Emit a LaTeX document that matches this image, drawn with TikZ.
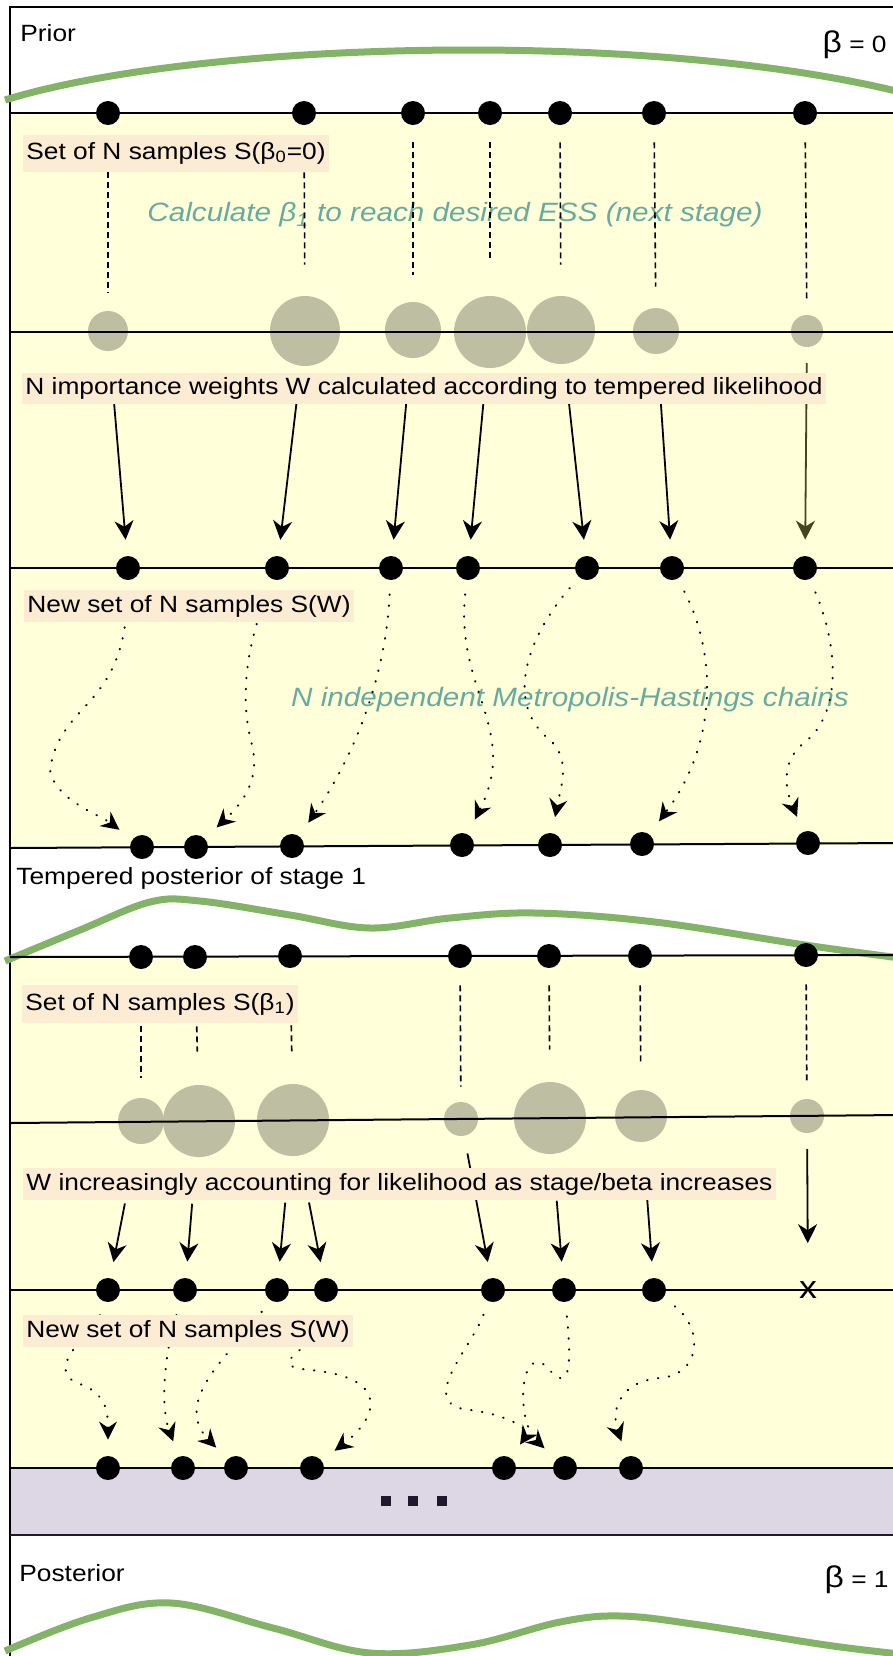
\documentclass[tikz,border=0pt]{standalone}
\usepackage{fontspec}
\setmainfont{Liberation Sans}[FakeStretch=1.12]
\usepackage{tikz}
\usetikzlibrary{arrows.meta}
\definecolor{smcyellow}{RGB}{255,255,218}
\definecolor{smclabel}{RGB}{253,236,212}
\definecolor{smcgray}{RGB}{190,190,162}
\definecolor{smcteal}{RGB}{103,171,159}
\definecolor{smcgreen}{RGB}{130,179,102}
\definecolor{smclav}{RGB}{221,214,228}
\definecolor{smcolive}{RGB}{70,70,30}
\definecolor{smcdark}{RGB}{30,25,45}

\begin{document}
\begin{tikzpicture}[
    x=0.5pt, y=-0.5pt,
    smp/.style={circle, fill=black, inner sep=0pt, minimum size=12pt},
    wgt/.style={circle, fill=smcgray, inner sep=0pt},
    lbl/.style={anchor=west, fill=smclabel, inner xsep=1.5pt, inner ysep=0pt, minimum height=16pt, font=\fontsize{11.75}{14}\selectfont},
    txt/.style={anchor=west, inner sep=0pt, font=\fontsize{11.75}{14}\selectfont},
    note/.style={inner sep=0pt, text=smcteal, font=\fontsize{13.25}{16}\selectfont\itshape},
    sq/.style={rectangle, fill=smcdark, inner sep=0pt, minimum size=5pt},
    sep/.style={line width=1pt},
    curve/.style={smcgreen, line width=3.5pt},
    link/.style={dash pattern=on 3pt off 2pt, line width=0.8pt, shorten <=8.5pt},
    wmap/.style={line width=0.9pt, -{Stealth[length=9.5pt, width=9.5pt, inset=3pt]}, shorten >=8pt},
    chain/.style={line width=1pt, dash pattern=on 0.3pt off 5.2pt, line cap=round, -{Stealth[length=9pt, width=9pt, inset=3pt]}, shorten <=7pt, shorten >=8pt}
  ]
  \useasboundingbox (0,0) rectangle (893,1656);
  \clip (0,0) rectangle (893,1656);

  % bands
  \fill[smcyellow] (10,113) rectangle (900,846);
  \fill[smcyellow] (10,956) rectangle (900,1468);
  \fill[smclav] (10,1468) rectangle (900,1535);
  \draw[line width=1pt] (10,1700) -- (10,7) -- (900,7);

  % densities
  \draw[curve] (5,100) .. controls (200,40) and (650,30) .. (900,92);
  \draw[curve] plot[smooth, tension=0.6] coordinates {(5,961) (80,930) (150,902) (200,901) (290,915) (370,928) (450,918) (535,913) (655,922) (805,945) (900,958)};
  \draw[curve] plot[smooth, tension=0.6] coordinates {(5,1651) (90,1618) (171,1603) (273,1628) (370,1653) (470,1645) (560,1622) (621,1616) (700,1625) (826,1645) (900,1654)};

  % weights
  \node[wgt, minimum size=20pt] (w0-1) at (108,331) {};
  \node[wgt, minimum size=35pt] (w0-2) at (305,331) {};
  \node[wgt, minimum size=28pt] (w0-3) at (413,330) {};
  \node[wgt, minimum size=36pt] (w0-4) at (490,332) {};
  \node[wgt, minimum size=34pt] (w0-5) at (561,330) {};
  \node[wgt, minimum size=23pt] (w0-6) at (656,331) {};
  \node[wgt, minimum size=16pt] (w0-7) at (807,331) {};
  \node[wgt, minimum size=23pt] (w1-1) at (141,1121) {};
  \node[wgt, minimum size=36pt] (w1-2) at (199,1121) {};
  \node[wgt, minimum size=36pt] (w1-3) at (293,1120) {};
  \node[wgt, minimum size=17pt] (w1-4) at (461,1119) {};
  \node[wgt, minimum size=36pt] (w1-5) at (550,1118) {};
  \node[wgt, minimum size=26pt] (w1-6) at (641,1116) {};
  \node[wgt, minimum size=17pt] (w1-7) at (807,1116) {};

  % stage lines
  \draw[sep] (10,113) -- (900,113);
  \draw[sep] (10,332) -- (900,332);
  \draw[sep] (10,568) -- (900,568);
  \draw[sep] (10,848) -- (900,843);
  \draw[sep] (10,957) -- (900,955);
  \draw[sep] (10,1123) -- (900,1115);
  \draw[sep] (10,1290) -- (900,1290);
  \draw[sep] (10,1468) -- (900,1468);
  \draw[sep, smcdark] (10,1535) -- (900,1535);

  % samples
  \node[smp] (s0-1) at (108,113) {}; \node[smp] (s0-2) at (304,113) {};
  \node[smp] (s0-3) at (413,113) {}; \node[smp] (s0-4) at (490,113) {};
  \node[smp] (s0-5) at (560,113) {}; \node[smp] (s0-6) at (654,113) {};
  \node[smp] (s0-7) at (805,113) {};
  \node[smp] (r0-1) at (128,568) {}; \node[smp] (r0-2) at (277,568) {};
  \node[smp] (r0-3) at (391,568) {}; \node[smp] (r0-4) at (468,568) {};
  \node[smp] (r0-5) at (587,568) {}; \node[smp] (r0-6) at (672,568) {};
  \node[smp] (r0-7) at (805,568) {};
  \node[smp] (m0-1) at (142,847) {}; \node[smp] (m0-2) at (196,847) {};
  \node[smp] (m0-3) at (292,846) {}; \node[smp] (m0-4) at (462,845) {};
  \node[smp] (m0-5) at (550,845) {}; \node[smp] (m0-6) at (642,844) {};
  \node[smp] (m0-7) at (808,843) {};
  \node[smp] (s1-1) at (141,957) {}; \node[smp] (s1-2) at (195,957) {};
  \node[smp] (s1-3) at (290,956) {}; \node[smp] (s1-4) at (460,956) {};
  \node[smp] (s1-5) at (549,956) {}; \node[smp] (s1-6) at (640,956) {};
  \node[smp] (s1-7) at (806,955) {};
  \node[smp] (r1-1) at (108,1290) {}; \node[smp] (r1-2) at (185,1290) {};
  \node[smp] (r1-3) at (277,1290) {}; \node[smp] (r1-4) at (326,1290) {};
  \node[smp] (r1-5) at (493,1290) {}; \node[smp] (r1-6) at (564,1290) {};
  \node[smp] (r1-7) at (654,1290) {};
  \node[inner sep=0pt, font=\fontsize{16}{16}\selectfont] (r1-x) at (808,1290) {x};
  \node[smp] (m1-1) at (108,1468) {}; \node[smp] (m1-2) at (183,1468) {};
  \node[smp] (m1-3) at (236,1468) {}; \node[smp] (m1-4) at (312,1468) {};
  \node[smp] (m1-5) at (504,1468) {}; \node[smp] (m1-6) at (565,1468) {};
  \node[smp] (m1-7) at (631,1468) {};

  \node[sq] (more-1) at (386,1501) {};
  \node[sq] (more-2) at (413,1501) {};
  \node[sq] (more-3) at (442,1501) {};

  % notes
  \node[note] (ess) at (455,215) {Calculate β\textsubscript{1} to reach desired ESS (next stage)};
  \node[note] (mh) at (570,700) {N independent Metropolis-Hastings chains};

  % weighting
  \draw[link, shorten >=9pt] (s0-1) -- (w0-1);
  \draw[link, shorten >=15.5pt] (s0-2) -- (w0-2);
  \draw[link, shorten >=13.5pt] (s0-3) -- (w0-3);
  \draw[link, shorten >=17pt] (s0-4) -- (w0-4);
  \draw[link, shorten >=15.5pt] (s0-5) -- (w0-5);
  \draw[link, shorten >=10.5pt] (s0-6) -- (w0-6);
  \draw[link, shorten >=6.5pt] (s0-7) -- (w0-7);
  \draw[link, shorten >=10pt] (s1-1) -- (w1-1);
  \draw[link, shorten >=16.5pt] (s1-2) -- (w1-2);
  \draw[link, shorten >=15.5pt] (s1-3) -- (w1-3);
  \draw[link, shorten >=7.5pt] (s1-4) -- (w1-4);
  \draw[link, shorten >=16pt] (s1-5) -- (w1-5);
  \draw[link, shorten >=13pt] (s1-6) -- (w1-6);
  \draw[link, shorten >=8.5pt] (s1-7) -- (w1-7);

  % resampling
  \draw[wmap, shorten <=36pt] (w0-1.center) -- (r0-1);
  \draw[wmap, shorten <=36pt] (w0-2.center) -- (r0-2);
  \draw[wmap, shorten <=36pt] (w0-3.center) -- (r0-3);
  \draw[wmap, shorten <=36pt] (w0-4.center) -- (r0-4);
  \draw[wmap, shorten <=36pt] (w0-5.center) -- (r0-5);
  \draw[wmap, shorten <=36pt] (w0-6.center) -- (r0-6);
  \draw[wmap, smcolive, shorten <=16pt] (w0-7.center) -- (r0-7);
  \draw[wmap, shorten <=42pt] (w1-1.center) -- (r1-1);
  \draw[wmap, shorten <=41.5pt] (w1-2.center) -- (r1-2);
  \draw[wmap, shorten <=41.5pt] (w1-3.center) -- (r1-3);
  \draw[wmap, shorten <=42pt] (w1-3.center) -- (r1-4);
  \draw[wmap, shorten <=17.5pt] (w1-4.center) -- (r1-5);
  \draw[wmap, shorten <=41.5pt] (w1-5.center) -- (r1-6);
  \draw[wmap, shorten <=41.5pt] (w1-6.center) -- (r1-7);
  \draw[wmap, shorten <=16.5pt, shorten >=19pt] (w1-7.center) -- (r1-x);

  % mcmc moves
  \draw[chain] (r0-1) .. controls (125,710) and (60,700) .. (50,770) .. controls (55,800) and (100,815) .. (m0-1);
  \draw[chain] (r0-2) .. controls (245,650) and (240,700) .. (252,745) .. controls (262,785) and (235,810) .. (m0-2);
  \draw[chain] (r0-3) .. controls (385,690) and (345,770) .. (m0-3);
  \draw[chain] (r0-4) .. controls (455,690) and (520,730) .. (m0-4);
  \draw[chain] (r0-5) .. controls (525,640) and (505,705) .. (550,740) .. controls (572,760) and (560,790) .. (m0-5);
  \draw[chain] (r0-6) .. controls (715,650) and (720,740) .. (m0-6);
  \draw[chain] (r0-7) .. controls (840,650) and (840,715) .. (805,742) .. controls (775,765) and (790,800) .. (m0-7);
  \draw[chain] (r1-1) .. controls (95,1330) and (40,1370) .. (80,1384) .. controls (105,1393) and (108,1410) .. (m1-1);
  \draw[chain] (r1-2) .. controls (168,1340) and (158,1400) .. (m1-2);
  \draw[chain] (r1-3) .. controls (235,1350) and (170,1400) .. (m1-3);
  \draw[chain] (r1-4) .. controls (326,1345) and (255,1365) .. (310,1370) .. controls (395,1378) and (375,1420) .. (m1-4);
  \draw[chain] (r1-5) .. controls (470,1350) and (415,1405) .. (470,1410) .. controls (510,1415) and (530,1430) .. (m1-5);
  \draw[chain] (r1-6) .. controls (572,1365) and (570,1395) .. (548,1368) .. controls (520,1340) and (515,1420) .. (m1-6);
  \draw[chain] (r1-7) .. controls (705,1330) and (700,1375) .. (660,1378) .. controls (615,1382) and (612,1415) .. (m1-7);

  % labels
  \node[txt] (prior) at (20,33) {Prior};
  \node[txt, anchor=east] (beta0) at (887,45) {{\fontsize{15}{15}\selectfont β} = 0};
  \node[lbl, minimum height=18.5pt] (ls0) at (23,153) {Set of N samples S(β\textsubscript{0}=0)};
  \node[lbl, minimum height=15.5pt] (lw0) at (22,388) {N importance weights W calculated according to tempered likelihood};
  \node[lbl] (lr0) at (24,606) {New set of N samples S(W)};
  \node[txt] (tp1) at (16,878) {Tempered posterior of stage 1};
  \node[lbl, minimum height=19pt] (ls1) at (22,1004) {Set of N samples S(β\textsubscript{1})};
  \node[lbl] (lw1) at (23,1184) {W increasingly accounting for likelihood as stage/beta increases};
  \node[lbl] (lr1) at (23,1331) {New set of N samples S(W)};
  \node[txt] (post) at (19,1573) {Posterior};
  \node[txt, anchor=east] (beta1) at (889,1580) {{\fontsize{15}{15}\selectfont β} = 1};
\end{tikzpicture}
\end{document}
